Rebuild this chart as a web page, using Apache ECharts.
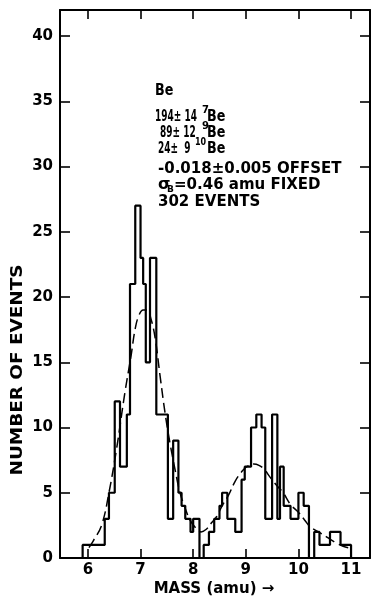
<!DOCTYPE html>
<html><head><meta charset="utf-8">
<script src="https://cdn.jsdelivr.net/npm/echarts@6/dist/echarts.min.js"></script>
<style>html,body{margin:0;padding:0;background:#fff}#c{width:374px;height:602px}</style>
</head><body><div id="c"></div>
<script>
// Histogram: left edge of each step (amu) and the number of events on it
const binEdges  = [5.90, 6.32, 6.40, 6.51, 6.61, 6.74, 6.80, 6.90, 7.00, 7.05, 7.10, 7.18, 7.30, 7.52, 7.62, 7.72, 7.78, 7.85, 7.95, 8.00, 8.12, 8.20, 8.30, 8.40, 8.50, 8.55, 8.65, 8.80, 8.92, 8.98, 9.10, 9.20, 9.30, 9.37, 9.50, 9.60, 9.65, 9.72, 9.85, 10.00, 10.10, 10.20, 10.30, 10.40, 10.60, 10.80];
const binCounts = [1,    3,    5,    12,   7,    11,   21,   27,   23,   21,   15,   23,   11,   3,    9,    5,    4,    3,    2,    3,    0,    1,    2,    3,    4,    5,    3,    2,    6,    7,    10,   11,   10,   3,    11,   3,    7,    4,    3,    5,     4,     0,     2,     1,     2,     1];
const histEnd = 11.00;

// Dashed fit curve
const fitMass  = [6.02, 6.10, 6.26, 6.40, 6.55, 6.70, 6.82, 6.90, 6.97, 7.05, 7.12, 7.20, 7.28, 7.37, 7.47, 7.56, 7.66, 7.75, 7.85, 7.94, 8.05, 8.15, 8.25, 8.35, 8.45, 8.55, 8.67, 8.80, 8.92, 9.02, 9.15, 9.25, 9.35, 9.46, 9.58, 9.71, 9.85, 10.00, 10.12, 10.22, 10.38, 10.54, 10.70, 10.85, 10.98];
const fitValue = [0.8,  1.3,  2.5,  5.0,  8.5,  12.6, 15.5, 17.6, 18.6, 19.0, 19.0, 18.3, 16.8, 14.0, 11.0, 8.8,  6.7,  5.0,  3.8,  2.9,  2.3,  2.0,  2.2,  2.7,  3.2,  4.0,  4.8,  5.9,  6.6,  7.0,  7.2,  7.1,  6.8,  6.2,  5.6,  5.0,  4.1,  3.5,   2.9,   2.4,   2.0,   1.6,   1.2,   0.9,   0.75];

const xTicks = [6, 7, 8, 9, 10, 11];
const yTicks = [0, 5, 10, 15, 20, 25, 30, 35, 40];

const histData = [[binEdges[0], 0]]
  .concat(binEdges.map((e, i) => [e, binCounts[i]]))
  .concat([[histEnd, 0]]);
const fitData = fitMass.map((m, i) => [m, fitValue[i]]);

const FONT = 'DejaVu Sans';
const axisLine = {show: true, onZero: false, lineStyle: {color: '#000', width: 2}};
function xAx(pos, labels) {
  return {
    type: 'value', min: 5.47, max: 11.36, position: pos,
    axisLine: axisLine,
    axisTick: {show: true, inside: true, length: 9, customValues: xTicks, lineStyle: {color: '#000', width: 1.6}},
    axisLabel: {show: labels, customValues: xTicks, color: '#000', fontSize: 15, fontWeight: 'bold', fontFamily: FONT, margin: 5},
    splitLine: {show: false}
  };
}
function yAx(pos, labels) {
  return {
    type: 'value', min: 0, max: 42, position: pos,
    axisLine: axisLine,
    axisTick: {show: true, inside: true, length: 10, customValues: yTicks, lineStyle: {color: '#000', width: 1.6}},
    axisLabel: {show: labels, customValues: yTicks, color: '#000', fontSize: 15, fontWeight: 'bold', fontFamily: FONT, margin: 7},
    splitLine: {show: false}
  };
}

function txt(x, y, s, size, extra) {
  return Object.assign({
    type: 'text', x: x, y: y,
    style: {text: s, fill: '#000', font: 'bold ' + size + 'px "' + FONT + '"', textAlign: 'left', textVerticalAlign: 'middle'}
  }, extra || {});
}
const narrow = {scaleX: 0.6};

const chart = echarts.init(document.getElementById('c'), null, {renderer: 'canvas'});
chart.setOption({
  animation: false,
  backgroundColor: '#fff',
  grid: {left: 60, right: 4, top: 10, bottom: 44, containLabel: false},
  xAxis: [xAx('bottom', true), xAx('top', false)],
  yAxis: [yAx('left', true), yAx('right', false)],
  series: [
    {type: 'line', step: 'end', data: histData, symbol: 'none', xAxisIndex: 0, yAxisIndex: 0,
     lineStyle: {color: '#000', width: 2.2}, z: 3},
    {type: 'line', smooth: 0.4, data: fitData, symbol: 'none', xAxisIndex: 0, yAxisIndex: 0,
     lineStyle: {color: '#000', width: 1.5, type: [10, 5]}, z: 2}
  ],
  graphic: [
    txt(155, 91, 'Be', 15, {scaleX: 0.85}),
    txt(155, 117, '194± 14', 15, narrow),
    txt(202, 110, '7', 10),
    txt(207, 117, 'Be', 15, {scaleX: 0.85}),
    txt(160, 133, '89± 12', 15, narrow),
    txt(202, 126, '9', 10),
    txt(207, 133, 'Be', 15, {scaleX: 0.85}),
    txt(158, 149, '24±  9', 15, narrow),
    txt(195, 142, '10', 10, {scaleX: 0.8}),
    txt(207, 149, 'Be', 15, {scaleX: 0.85}),
    txt(158, 169, '-0.018±0.005 OFFSET', 15),
    txt(158, 185, 'σ', 16),
    txt(167, 190, 'B', 9),
    txt(174, 185, '=0.46 amu FIXED', 15),
    txt(158, 202, '302 EVENTS', 15),
    {type: 'text', x: 214, y: 589, style: {text: 'MASS (amu) →', fill: '#000', font: 'bold 15px "' + FONT + '"', textAlign: 'center', textVerticalAlign: 'middle'}},
    {type: 'text', x: 18, y: 370, rotation: Math.PI / 2, scaleX: 1.15, style: {text: 'NUMBER OF EVENTS', fill: '#000', font: 'bold 16px "' + FONT + '"', textAlign: 'center', textVerticalAlign: 'middle'}}
  ]
});
</script>
</body></html>
